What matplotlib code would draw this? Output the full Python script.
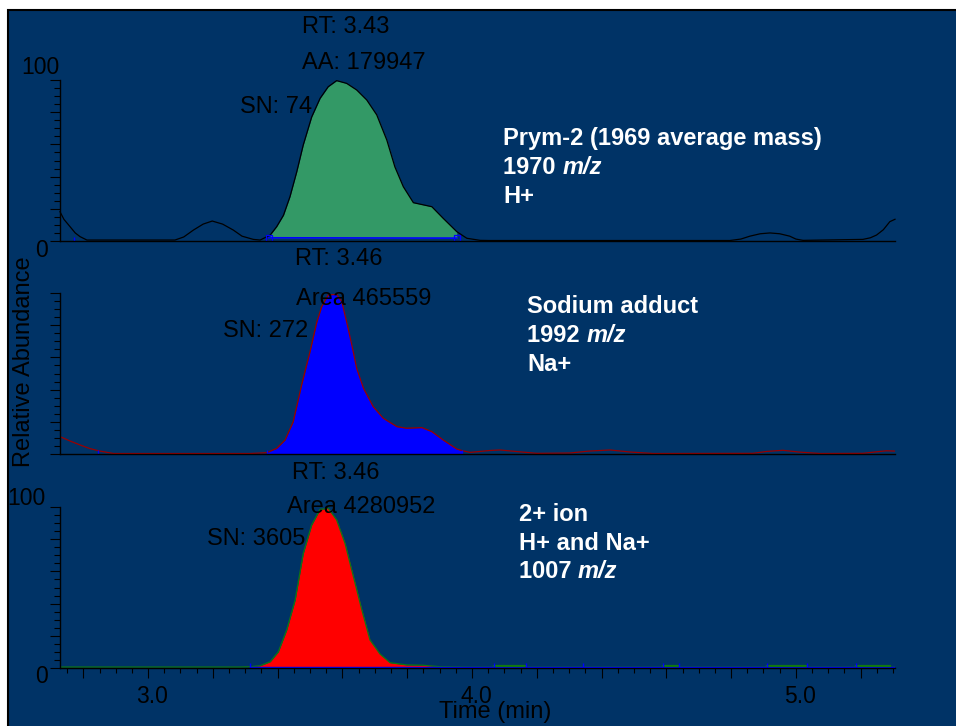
import matplotlib
matplotlib.use('Agg')
import matplotlib.pyplot as plt
import matplotlib.transforms as mtransforms
from matplotlib.patches import Rectangle
from matplotlib.ticker import FixedLocator, FuncFormatter
import numpy as np

plt.rcParams['font.family'] = ['Liberation Sans', 'DejaVu Sans']

# --- traces (time in min, relative abundance in %) ---
time_h = [2.728, 2.740, 2.759, 2.775, 2.790, 2.811, 3.083, 3.110, 3.140, 3.170,
          3.198, 3.230, 3.263, 3.290, 3.325, 3.346, 3.377, 3.397, 3.418, 3.438,
          3.459, 3.479, 3.505, 3.531, 3.556, 3.582, 3.613, 3.644, 3.675, 3.706,
          3.737, 3.762, 3.788, 3.819, 3.876, 3.911, 3.953, 3.984, 4.025, 4.056,
          4.796, 4.830, 4.858, 4.890, 4.920, 4.950, 4.981, 5.000, 5.022, 5.207,
          5.230, 5.249, 5.270, 5.290, 5.306]
abund_h = [18.2, 13.5, 8.9, 5.0, 2.7, 0.6, 0.6, 2.5, 6.8, 10.5,
           12.4, 10.5, 6.8, 3.0, 1.0, 0.6, 3.7, 8.9, 16.0, 27.5,
           43.0, 59.6, 77.0, 88.6, 95.8, 99.6, 97.9, 93.8, 87.6, 78.3,
           62.7, 46.0, 33.7, 23.8, 21.3, 14.1, 5.8, 1.7, 0.4, 0.3,
           0.3, 1.2, 3.0, 4.5, 5.0, 4.5, 3.0, 1.2, 0.4, 1.0,
           2.0, 3.7, 7.0, 12.0, 13.5]

time_na = [2.728, 2.760, 2.790, 2.820, 2.847, 2.893, 3.315, 3.366, 3.397, 3.423,
           3.448, 3.474, 3.500, 3.521, 3.536, 3.556, 3.582, 3.598, 3.613, 3.629,
           3.644, 3.665, 3.695, 3.726, 3.768, 3.798, 3.845, 3.876, 3.911, 3.953,
           3.968, 3.994, 4.056, 4.086, 4.140, 4.200, 4.302, 4.360, 4.426, 4.490,
           4.559, 4.867, 4.910, 4.960, 5.010, 5.074, 5.207, 5.250, 5.280, 5.306]
abund_na = [10.8, 8.0, 5.6, 3.4, 2.0, 0.3, 0.3, 0.8, 3.5, 8.7,
            20.0, 42.9, 63.6, 82.0, 91.5, 98.8, 99.2, 94.6, 82.0, 67.7,
            53.2, 40.8, 29.4, 22.2, 17.0, 16.0, 16.4, 13.9, 8.7, 3.1,
            2.2, 1.0, 2.2, 2.5, 1.5, 0.4, 0.6, 1.8, 2.5, 1.2,
            0.3, 0.4, 1.6, 2.3, 1.2, 0.3, 0.4, 1.4, 2.0, 1.8]

time_2 = [2.728, 3.284, 3.315, 3.346, 3.377, 3.402, 3.428, 3.454, 3.479, 3.505,
          3.531, 3.556, 3.582, 3.608, 3.634, 3.660, 3.685, 3.716, 3.747, 3.798,
          3.850, 3.901, 3.994, 5.306]
abund_2 = [0.6, 0.6, 0.8, 1.4, 3.9, 10.0, 23.6, 42.2, 71.0, 88.8,
           98.5, 99.2, 92.0, 77.4, 56.7, 36.0, 17.4, 8.7, 3.3, 1.9,
           1.7, 0.8, 0.5, 0.5]

# integration windows and baseline markers
window_h = [3.373, 3.953]
baseline_h = [2.0, 1.8]
window_na = [3.366, 3.968]
window_2 = [3.315, 3.901]
marks_h = [2.772]
marks_na = [2.846, 3.367, 3.968]
marks_2 = [3.315, 4.068, 4.167, 4.343, 4.590, 4.639, 4.910, 5.034, 5.185]
noise_2 = [(4.068, 4.167), (4.590, 4.639), (4.910, 5.034), (5.185, 5.29)]

peak_notes_h = ['RT: 3.43', 'AA: 179947', 'SN: 74']
peak_notes_na = ['RT: 3.46', 'Area 465559', 'SN: 272']
peak_notes_2 = ['RT: 3.46', 'Area 4280952', 'SN: 3605']
labels_h = ['Prym-2 (1969 average mass)', '1970 m/z', 'H+']
labels_na = ['Sodium adduct', '1992 m/z', 'Na+']
labels_2 = ['2+ ion', 'H+ and Na+', '1007 m/z']

navy = '#003366'
W, H = 956, 726

fig = plt.figure(figsize=(W / 100, H / 100), dpi=100, facecolor='white')
fig.patches.append(Rectangle((8 / W, -0.02), 1.0, 1 - 10 / H + 0.02,
                             transform=fig.transFigure, facecolor=navy,
                             edgecolor='black', lw=1.5, zorder=-1))

left, width, height = 60 / W, 835 / W, 161 / H
ax_h = fig.add_axes([left, (H - 241) / H, width, height])
ax_na = fig.add_axes([left, (H - 454) / H, width, height])
ax_2 = fig.add_axes([left, (H - 668) / H, width, height])


def style_axes(ax, xticks):
    ax.set_facecolor('none')
    ax.set_xlim(2.728, 5.306)
    ax.set_ylim(0, 100)
    for s in ['top', 'right']:
        ax.spines[s].set_visible(False)
    for s in ['left', 'bottom']:
        ax.spines[s].set_color('black')
        ax.spines[s].set_linewidth(1.0)
    ax.set_yticks(np.arange(0, 101, 20))
    ax.set_yticks(np.arange(0, 101, 5), minor=True)
    ax.tick_params(axis='y', which='major', length=7.2, width=0.8, labelleft=False)
    ax.tick_params(axis='y', which='minor', length=4.3, width=0.8)
    if not xticks:
        ax.tick_params(axis='x', which='both', bottom=False, labelbottom=False)


for ax in (ax_h, ax_na, ax_2):
    style_axes(ax, ax is ax_2)

# x ticks only on the bottom panel
ax_2.xaxis.set_major_locator(FixedLocator(np.arange(2.8, 5.31, 0.2)))
ax_2.xaxis.set_minor_locator(FixedLocator(np.arange(2.75, 5.31, 0.05)))
ax_2.xaxis.set_major_formatter(FuncFormatter(
    lambda v, p: f'{v:.1f}' if abs(v - round(v)) < 1e-6 else ''))
ax_2.tick_params(axis='x', which='major', length=7.2, width=0.8, pad=5, labelsize=16.5)
ax_2.tick_params(axis='x', which='minor', length=3.6, width=0.8)
shift = mtransforms.ScaledTranslation(4 / 100, 0, fig.dpi_scale_trans)
for lab in ax_2.get_xticklabels():
    lab.set_transform(lab.get_transform() + shift)

# --- top: H+ trace ---
t = np.array(time_h)
a = np.array(abund_h)
sel = (t >= window_h[0]) & (t <= window_h[1])
base = np.interp(t[sel], window_h, baseline_h)
ax_h.fill_between(t[sel], a[sel], base, color='#339966', lw=0)
ax_h.plot(t, a, color='black', lw=0.9, clip_on=False)
ax_h.plot(window_h, baseline_h, color='#0000ff', lw=1.2, marker='s', ms=5,
          mfc='none', mec='#0000ff', mew=0.9)
ax_h.plot(marks_h, [0.8] * len(marks_h), ls='none', marker='|', ms=4.5,
          color='#0000ff', mew=1)

# --- middle: Na+ trace ---
t = np.array(time_na)
a = np.array(abund_na)
sel = (t >= window_na[0]) & (t <= window_na[1])
ax_na.fill_between(t[sel], a[sel], 0, color='#0000ff', lw=0)
ax_na.plot(t, a, color='#990000', lw=0.9)
ax_na.plot(marks_na, [0.8] * len(marks_na), ls='none', marker='|', ms=4.5,
           color='#0000ff', mew=1)

# --- bottom: 2+ trace ---
t = np.array(time_2)
a = np.array(abund_2)
sel = (t >= window_2[0]) & (t <= window_2[1])
ax_2.fill_between(t[sel], a[sel], 0, color='#ff0000', lw=0)
ax_2.plot(t, a, color='#117711', lw=0.9)
ax_2.plot([window_2[0], 5.306], [0.5, 0.5], color='#0000ff', lw=1.0)
for x0, x1 in noise_2:
    ax_2.plot([x0, x1], [1.1, 1.1], color='#117711', lw=1.6)
ax_2.plot(marks_2, [1.0] * len(marks_2), ls='none', marker='|', ms=4.5,
          color='#0000ff', mew=1)

# --- peak notes (black) ---
fs = 17
note_pos_h = [(3.475, 129.2), (3.475, 106.6), (3.284, 79.3)]
note_pos_na = [(3.454, 117.4), (3.457, 92.5), (3.231, 72.9)]
note_pos_2 = [(3.444, 117.2), (3.429, 96.5), (3.182, 76.4)]
for ax, notes, pos in [(ax_h, peak_notes_h, note_pos_h),
                       (ax_na, peak_notes_na, note_pos_na),
                       (ax_2, peak_notes_2, note_pos_2)]:
    for s, (x, y) in zip(notes, pos):
        ax.text(x, y, s, fontsize=fs, color='black', ha='left', va='baseline',
                clip_on=False)

# --- ion labels (white, bold; "m/z" in italic) ---
for ax, labs, x, ys in [(ax_h, labels_h, 4.096, [59.6, 41.6, 23.8]),
                        (ax_na, labels_na, 4.170, [87.8, 69.8, 51.7]),
                        (ax_2, labels_2, 4.145, [91.3, 73.3, 55.7])]:
    for s, y in zip(labs, ys):
        if s.endswith('m/z'):
            head = ax.text(x, y, s[:-3], fontsize=fs, color='white',
                           fontweight='bold', ha='left', va='baseline')
            ax.annotate('m/z', xy=(1, 0), xycoords=head, fontsize=fs,
                        color='white', fontweight='bold', fontstyle='italic',
                        ha='left', va='bottom')
        else:
            ax.text(x, y, s, fontsize=fs, color='white', fontweight='bold',
                    ha='left', va='baseline')

# y tick numbers (only 0 and 100 on top and bottom panels)
ax_h.text(2.725, 103.7, '100', fontsize=16.5, ha='right', va='baseline', clip_on=False)
ax_h.text(2.691, -9.9, '0', fontsize=16.5, ha='right', va='baseline', clip_on=False)
ax_2.text(2.682, 101.2, '100', fontsize=16.5, ha='right', va='baseline', clip_on=False)
ax_2.text(2.691, -9.3, '0', fontsize=16.5, ha='right', va='baseline', clip_on=False)

fig.text(24 / W, 1 - 362 / H, 'Relative Abundance', rotation=90, fontsize=fs,
         ha='center', va='center')
fig.text(495 / W, 1 - 712 / H, 'Time (min)', fontsize=fs, ha='center', va='center')

fig.savefig('out.png', dpi=100, facecolor='white')
